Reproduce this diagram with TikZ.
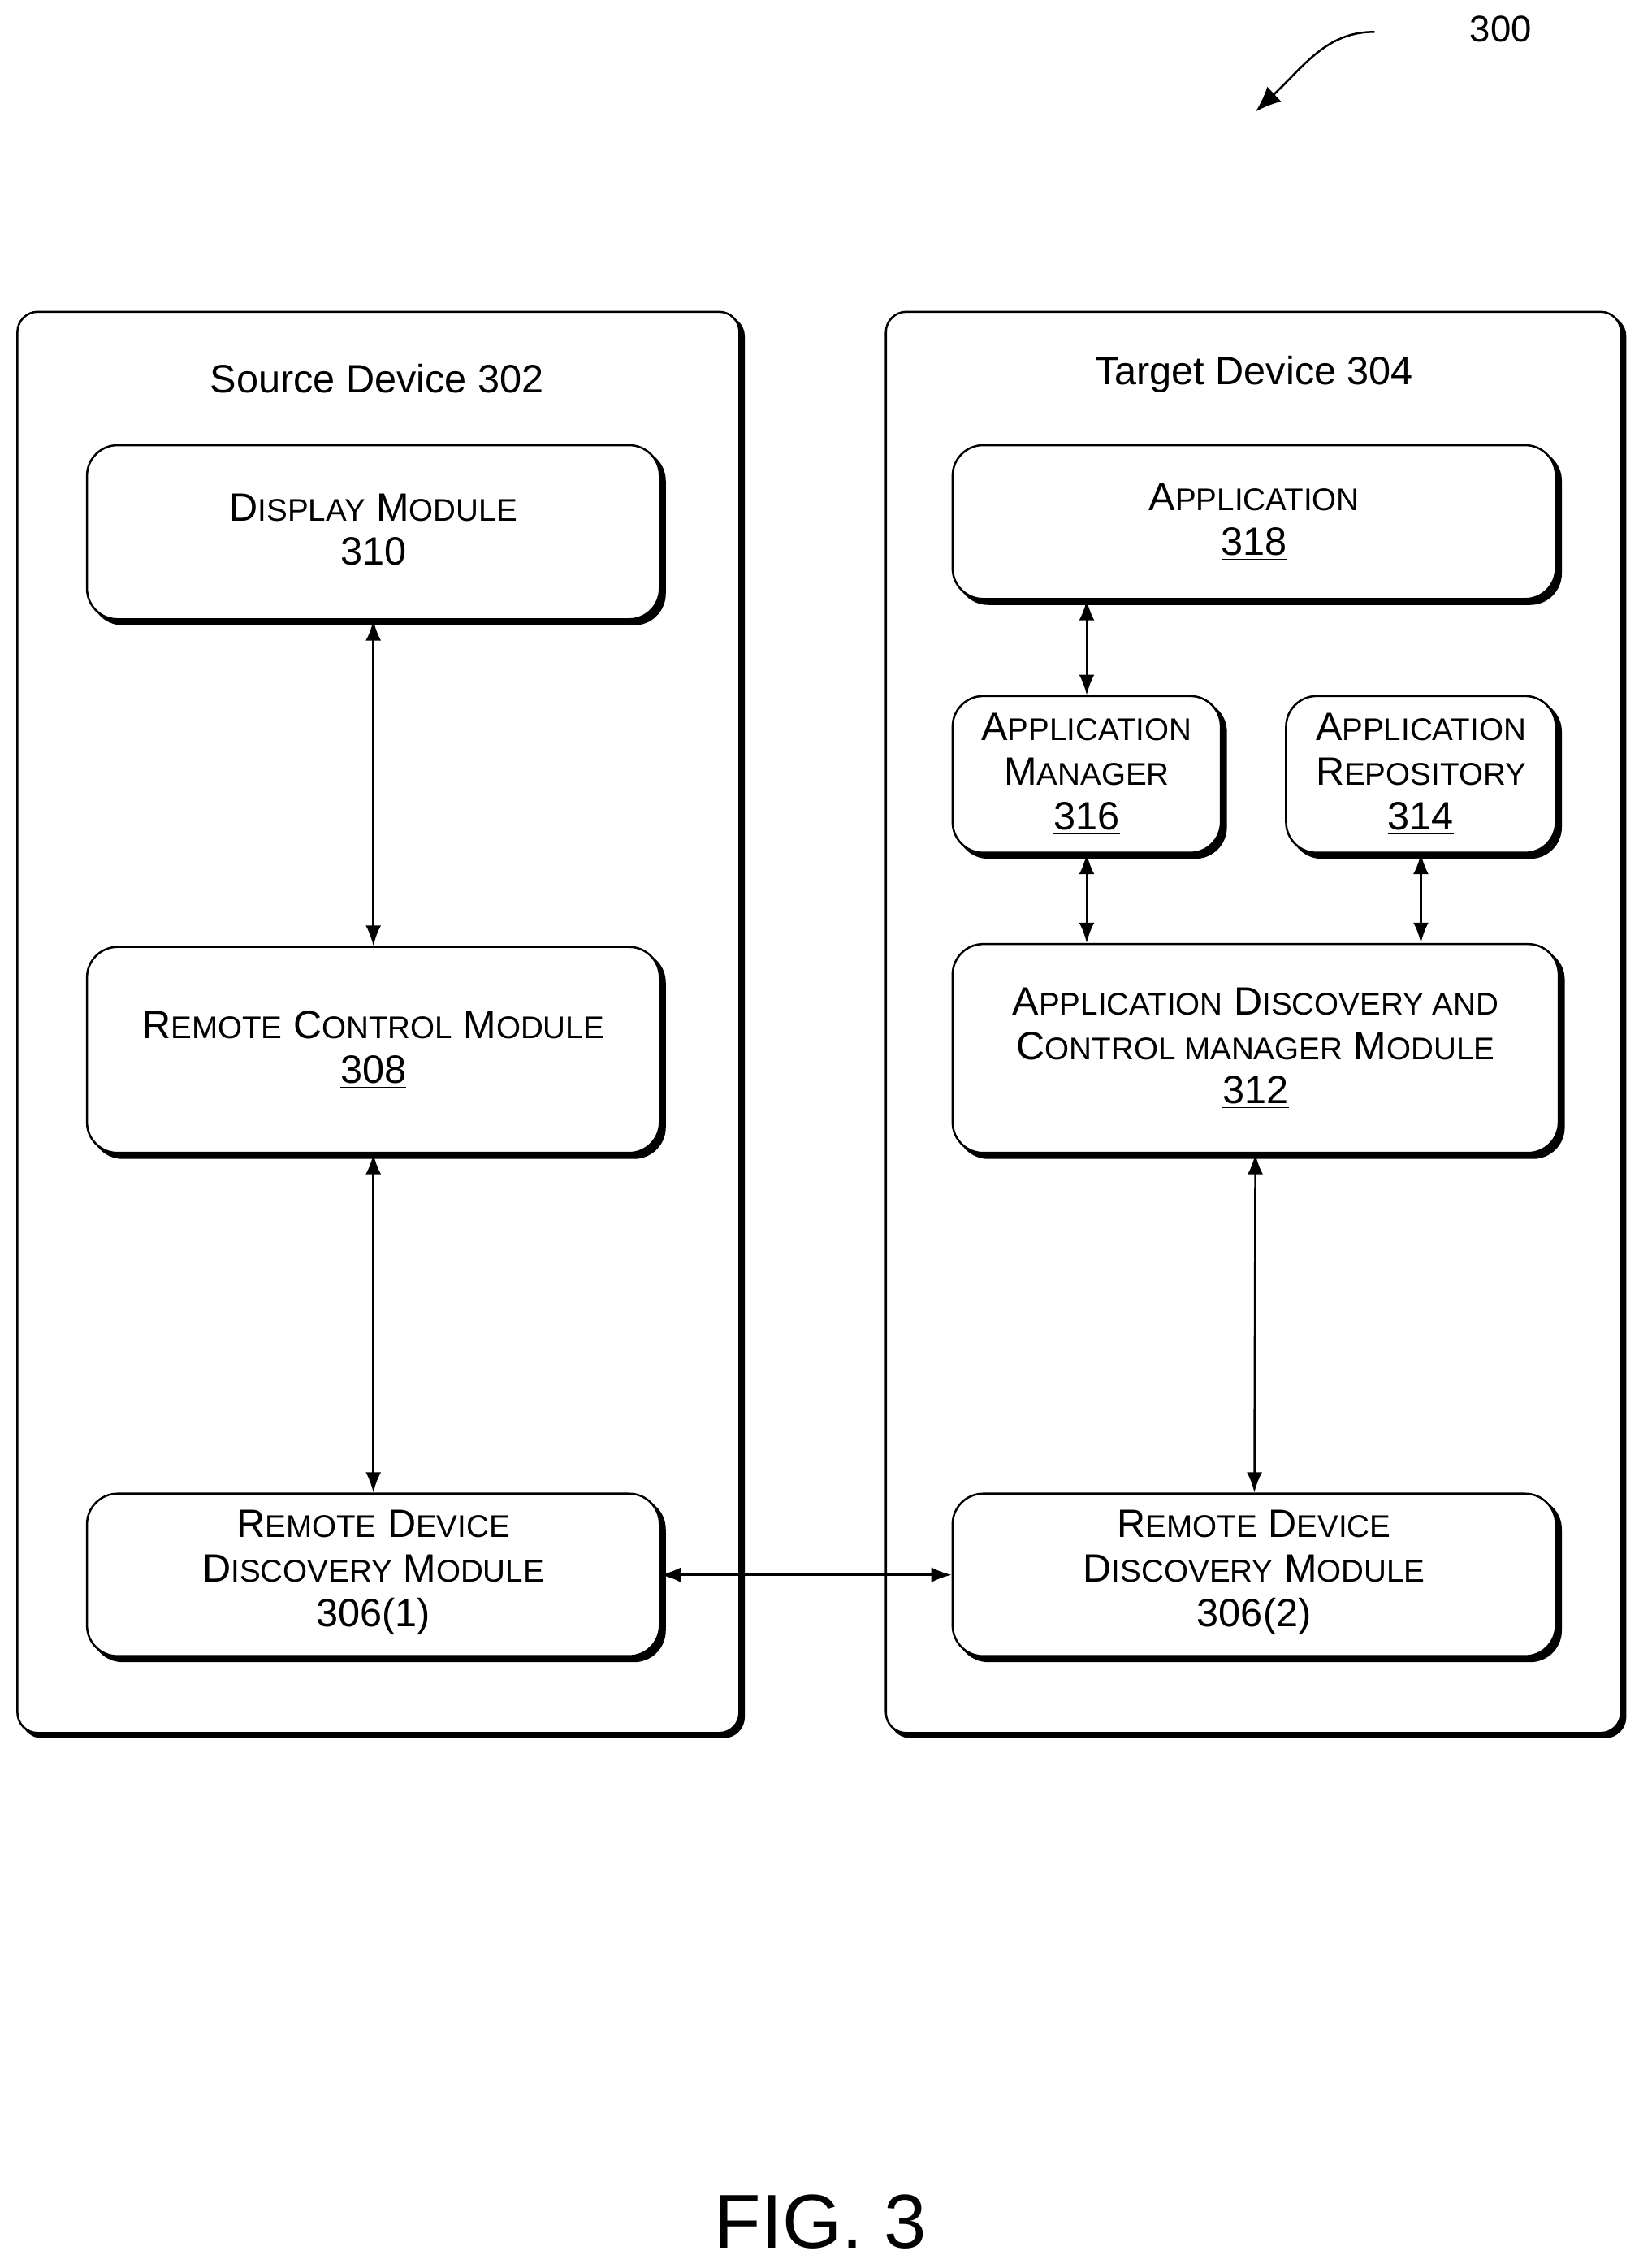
\documentclass[tikz,border=0pt]{standalone}
\usepackage{fontspec}
\setmainfont{Liberation Sans}
\usetikzlibrary{shadows,arrows.meta}
\newcommand\sm[1]{{\fontsize{12.3}{14}\selectfont\MakeUppercase{#1}}}
\tikzset{
	module/.style={draw,thick,rounded corners=12pt,fill=white,align=center,
		font=\fontsize{15.5}{17.5}\selectfont,
		copy shadow={shadow xshift=0.07cm,shadow yshift=-0.07cm,fill=black,draw=black,thick}},
	device/.style={draw,thick,rounded corners=8pt,fill=white,
		copy shadow={shadow xshift=0.06cm,shadow yshift=-0.06cm,fill=black,draw=black,thick}},
	link/.style={{Latex[length=8pt,width=6pt]}-{Latex[length=8pt,width=6pt]},thick}
}
\begin{document}
\begin{tikzpicture}[x=0.02cm,y=-0.02cm]
	\useasboundingbox (0,0) rectangle (1130,1564);
	% devices
	\node[device,minimum width=498*0.02cm,minimum height=980*0.02cm] (src) at (261,705) {};
	\node[device,minimum width=507*0.02cm,minimum height=980*0.02cm] (tgt) at (864.5,705) {};
	\node[font=\fontsize{15.5}{17}\selectfont] (srct) at (260,261) {Source Device 302};
	\node[font=\fontsize{15.5}{17}\selectfont] (tgtt) at (865,258) {Target Device 304};
	% source modules
	\node[module,minimum width=395*0.02cm,minimum height=120*0.02cm] (disp) at (257.5,367) {D\sm{isplay} M\sm{odule}\\\underline{310}};
	\node[module,minimum width=395*0.02cm,minimum height=142*0.02cm] (rcm) at (257.5,724) {R\sm{emote} C\sm{ontrol} M\sm{odule}\\\underline{308}};
	\node[module,minimum width=395*0.02cm,minimum height=112*0.02cm] (rdd1) at (257.5,1086) {R\sm{emote} D\sm{evice}\\D\sm{iscovery} M\sm{odule}\\\underline{306(1)}};
	% target modules
	\node[module,minimum width=416*0.02cm,minimum height=106*0.02cm] (app) at (865,360) {A\sm{pplication}\\\underline{318}};
	\node[module,minimum width=185*0.02cm,minimum height=108*0.02cm] (am) at (749.5,534) {A\sm{pplication}\\M\sm{anager}\\\underline{316}};
	\node[module,minimum width=186*0.02cm,minimum height=108*0.02cm] (repo) at (980,534) {A\sm{pplication}\\R\sm{epository}\\\underline{314}};
	\node[module,minimum width=418*0.02cm,minimum height=144*0.02cm] (adcm) at (866,723) {A\sm{pplication} D\sm{iscovery and}\\C\sm{ontrol manager} M\sm{odule}\\\underline{312}};
	\node[module,minimum width=416*0.02cm,minimum height=112*0.02cm] (rdd2) at (865,1086) {R\sm{emote} D\sm{evice}\\D\sm{iscovery} M\sm{odule}\\\underline{306(2)}};
	% connectors
	\draw[link] (disp) -- (rcm);
	\draw[link] (rcm) -- (rdd1);
	\draw[link] (am.north) -- (am.north|-app.south);
	\draw[link] (am) -- (am.south|-adcm.north);
	\draw[link] (repo) -- (repo.south|-adcm.north);
	\draw[link] (adcm) -- (rdd2);
	\draw[link] (rdd1) -- (rdd2);
	% figure label
	\node[font=\fontsize{14.5}{16}\selectfont] (ref) at (1035,20) {300};
	\coordinate (refend) at (866,77);
	\draw[-{Latex[length=10pt,width=8pt]},thick] (948,22) .. controls (915,22) and (900,45) .. (refend);
	\node[font=\fontsize{30}{34}\selectfont] (fig) at (566,1532) {FIG. 3};
\end{tikzpicture}
\end{document}
